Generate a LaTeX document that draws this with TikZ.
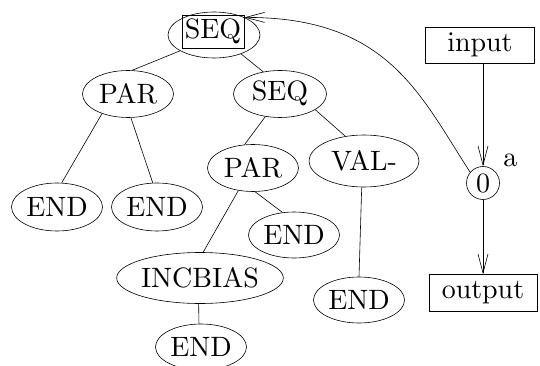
\documentclass[tikz,border=0pt]{standalone}
\usetikzlibrary{shapes.geometric,arrows.meta}
\font\cmbigten=cmr10 at 28pt
\begin{document}
\begin{tikzpicture}[x=1pt,y=-1pt,
  every node/.style={font=\cmbigten, inner sep=0pt},
  ell/.style={draw, ellipse, line width=0.6pt},
  box/.style={draw, rectangle, line width=0.6pt},
  edge/.style={line width=0.6pt},
  arr/.style={line width=0.6pt, -{Straight Barb[length=19pt,width=10pt]}}]
\useasboundingbox (0,0) rectangle (540,366);
% tree
\node[ell, minimum width=92pt, minimum height=46pt] (root) at (214,35) {};
\node[box, minimum width=62pt, minimum height=33pt] (rootbox) at (213,31.5) {SEQ};
\node[ell, minimum width=91pt, minimum height=47pt] (parL) at (128,94) {PAR};
\node[ell, minimum width=93pt, minimum height=47pt] (seqR) at (280,94) {SEQ};
\node[ell, minimum width=91pt, minimum height=48pt] (end1) at (57,207) {END};
\node[ell, minimum width=91pt, minimum height=48pt] (end2) at (157,207) {END};
\node[ell, minimum width=91pt, minimum height=47pt] (parM) at (253,168) {PAR};
\node[ell, minimum width=110pt, minimum height=52pt] (val) at (364,161) {VAL-};
\node[ell, minimum width=91pt, minimum height=46pt] (end3) at (294,235) {END};
\node[ell, minimum width=91pt, minimum height=46pt] (end5) at (359,300) {END};
\node[ell, minimum width=158pt, minimum height=51pt] (inc) at (200,278) {INCBIAS};
\node[ell, minimum width=91pt, minimum height=46pt] (end4) at (201,347) {END};
% right part
\node[box, minimum width=109pt, minimum height=36pt] (input) at (480,45) {input};
\node[draw, circle, line width=0.6pt, minimum size=33pt] (zero) at (483,183) {0};
\node (alab) at (510,160) {a};
\node[box, minimum width=108pt, minimum height=37pt] (output) at (483,293) {output};
% edges
\draw[edge] (root.205) -- (parL.80);
\draw[edge] (root.325) -- (seqR.127);
\draw[edge] (parL.217) -- (end1.79);
\draw[edge] (parL.277) -- (end2.100);
\draw[edge] (seqR.237) -- (parM.110);
\draw[edge] (seqR.336) -- (val.127);
\draw[edge] (parM.237) -- (inc.83);
\draw[edge] (parM.275) -- (end3.117);
\draw[edge] (val.265) -- (end5.90);
\draw[edge] (inc.267) -- (end4.95);
\draw[arr] (zero.north |- input.south) -- (zero.north);
\draw[arr] (zero.south) -- (zero.south |- output.north);
\draw[arr] (zero.140) .. controls (420,95) and (388,17) .. (root.30);
\end{tikzpicture}
\end{document}
